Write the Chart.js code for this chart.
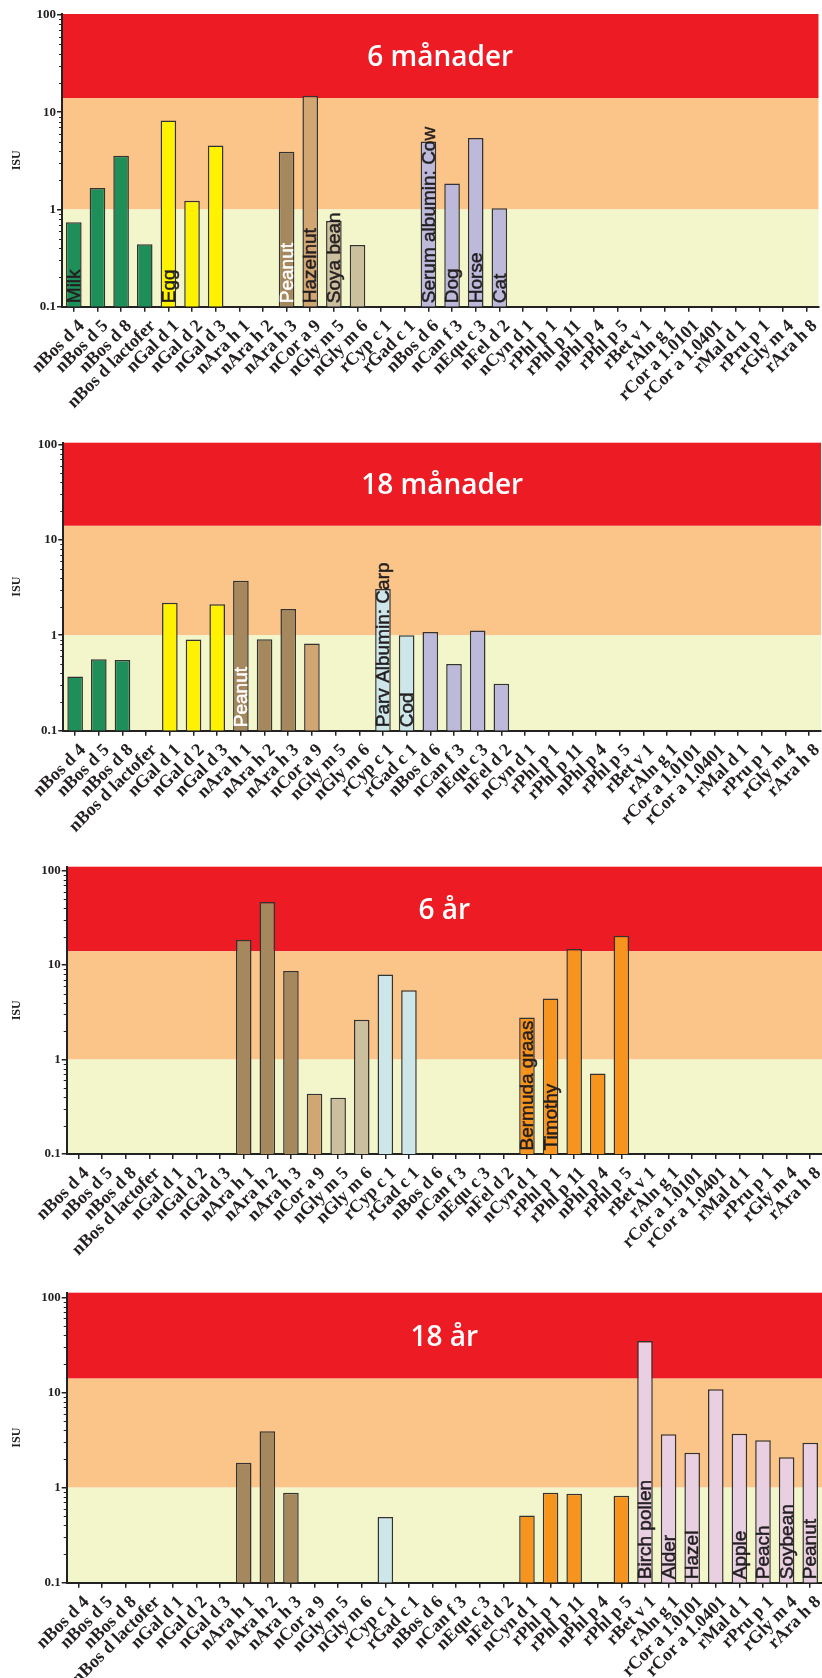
<!DOCTYPE html>
<html>
<head>
<meta charset="utf-8">
<script src="https://cdn.jsdelivr.net/npm/chart.js@4.4.0/dist/chart.umd.min.js"></script>
<style>
  body { margin: 0; background: #fff; width: 822px; height: 1678px; overflow: hidden; position: relative; }
  .panel { position: absolute; left: 0; width: 822px; }
</style>
</head>
<body>
<div class="panel" style="top:0;height:420px"><canvas id="c0"></canvas></div>
<div class="panel" style="top:425px;height:425px"><canvas id="c1"></canvas></div>
<div class="panel" style="top:850px;height:425px"><canvas id="c2"></canvas></div>
<div class="panel" style="top:1275px;height:403px"><canvas id="c3"></canvas></div>
<script>
// allergen components on the x axis
const allergens = [
  "nBos d 4", "nBos d 5", "nBos d 8", "nBos d lactofer", "nGal d 1", "nGal d 2", "nGal d 3",
  "nAra h 1", "nAra h 2", "nAra h 3", "nCor a 9", "nGly m 5", "nGly m 6", "rCyp c 1", "rGad c 1",
  "nBos d 6", "nCan f 3", "nEqu c 3", "nFel d 2", "nCyn d 1", "rPhl p 1", "rPhl p 11", "nPhl p 4",
  "rPhl p 5", "rBet v 1", "rAln g 1", "rCor a 1.0101", "rCor a 1.0401", "rMal d 1", "rPru p 1",
  "rGly m 4", "rAra h 8"
];
const groups = [
  "milk", "milk", "milk", "milk", "egg", "egg", "egg",
  "peanut", "peanut", "peanut", "hazelnut", "soy", "soy", "fish", "fish",
  "animal", "animal", "animal", "animal", "grass", "grass", "grass", "grass",
  "grass", "pr10", "pr10", "pr10", "pr10", "pr10", "pr10", "pr10", "pr10"
];

// ISU values per age (null = no bar)
const isu6m = [0.74, 1.66, 3.56, 0.44, 8.2, 1.23, 4.56, null, null, 3.92, 14.8, 0.76, 0.43, null, null,
  5.0, 1.85, 5.42, 1.03, null, null, null, null, null, null, null, null, null, null, null, null, null];
const isu18m = [0.37, 0.56, 0.55, null, 2.19, 0.9, 2.11, 3.72, 0.91, 1.88, 0.82, null, null, 3.05, 1.0,
  1.08, 0.5, 1.12, 0.31, null, null, null, null, null, null, null, null, null, null, null, null, null];
const isu6y = [null, null, null, null, null, null, null, 18.5, 46.4, 8.68, 0.435, 0.395, 2.63, 7.94, 5.42,
  null, null, null, null, 2.78, 4.42, 14.8, 0.71, 20.4, null, null, null, null, null, null, null, null];
const isu18y = [null, null, null, null, null, null, null, 1.83, 3.91, 0.88, null, null, null, 0.49, null,
  null, null, null, null, 0.51, 0.88, 0.86, null, 0.82, 34.8, 3.63, 2.33, 10.8, 3.69, 3.14, 2.08, 2.96];

// source names written inside the bars
const sources6m = [["nBos d 4", "Milk"], ["nGal d 1", "Egg"], ["nAra h 3", "Peanut"], ["nCor a 9", "Hazelnut"],
  ["nGly m 5", "Soya bean"], ["nBos d 6", "Serum albumin: Cow"], ["nCan f 3", "Dog"], ["nEqu c 3", "Horse"], ["nFel d 2", "Cat"]];
const sources18m = [["nAra h 1", "Peanut"], ["rCyp c 1", "Parv Albumin: Carp"], ["rGad c 1", "Cod"]];
const sources6y = [["nCyn d 1", "Bermuda graas"], ["rPhl p 1", "Timothy"]];
const sources18y = [["rBet v 1", "Birch pollen"], ["rAln g 1", "Alder"], ["rCor a 1.0101", "Hazel"], ["rMal d 1", "Apple"],
  ["rPru p 1", "Peach"], ["rGly m 4", "Soybean"], ["rAra h 8", "Peanut"]];

const titles = ["6 månader", "18 månader", "6 år", "18 år"];
const yTicks = [0.1, 1, 10, 100];
const bandLimits = [14, 1];

const groupColours = {
  milk: "#1e8f58", egg: "#fff200", peanut: "#a5885d", hazelnut: "#d1a672", soy: "#cbbf9d",
  fish: "#cde6ea", animal: "#bdb9db", grass: "#f7941d", pr10: "#e8d0e2"
};

const panels = [
  { values: isu6m, sources: sources6m, left: 62, right: 818.5, top: 14, xHeight: 113.3, yMax: 102.4 },
  { values: isu18m, sources: sources18m, left: 63.3, right: 821, top: 17.7, xHeight: 119.3, yMax: 104 },
  { values: isu6y, sources: sources6y, left: 66.7, right: 822, top: 16.7, xHeight: 121, yMax: 110 },
  { values: isu18y, sources: sources18y, left: 66.7, right: 822, top: 17.7, xHeight: 95.3, yMax: 112 }
];

const bandsPlugin = {
  id: "bands",
  beforeDraw(chart) {
    const { ctx, chartArea: a, scales: { y } } = chart;
    const yRed = y.getPixelForValue(bandLimits[0]);
    const yOne = y.getPixelForValue(bandLimits[1]);
    ctx.save();
    ctx.fillStyle = "#ed1c24";
    ctx.fillRect(a.left, a.top, a.right - a.left, yRed - a.top);
    ctx.fillStyle = "#fbc58a";
    ctx.fillRect(a.left, yRed, a.right - a.left, yOne - yRed);
    ctx.fillStyle = "#f3f5cb";
    ctx.fillRect(a.left, yOne, a.right - a.left, a.bottom - yOne);
    // title in the red band
    ctx.fillStyle = "#fff";
    ctx.font = "600 28px 'Open Sans'";
    ctx.textAlign = "center";
    ctx.textBaseline = "alphabetic";
    ctx.fillText(chart.options.plugins.bands.title, (a.left + a.right) / 2, (a.top + yRed) / 2 + 10);
    ctx.restore();
  },
  afterDraw(chart) {
    const { ctx, chartArea: a, scales: { x, y } } = chart;
    ctx.save();
    // minor ticks on the log axis
    ctx.strokeStyle = "#222";
    ctx.lineWidth = 1;
    for (let d = 0.1; d < 100; d *= 10) {
      for (let k = 2; k <= 9; k++) {
        const py = Math.round(y.getPixelForValue(d * k)) + 0.5;
        ctx.beginPath();
        ctx.moveTo(a.left - 3, py);
        ctx.lineTo(a.left, py);
        ctx.stroke();
      }
    }
    // source names inside the bars
    const base = y.getPixelForValue(0.1) - 3.5;
    ctx.font = "19px 'Liberation Sans'";
    ctx.textAlign = "left";
    ctx.textBaseline = "middle";
    ctx.lineWidth = 0.5;
    chart.options.plugins.bands.sources.forEach(([comp, name]) => {
      const i = allergens.indexOf(comp);
      const px = x.getPixelForValue(i);
      const col = groups[i] === "peanut" ? "#fff" : "#231f20";
      ctx.fillStyle = col;
      ctx.strokeStyle = col;
      ctx.save();
      ctx.translate(px + 1, base);
      ctx.rotate(-Math.PI / 2);
      ctx.fillText(name, 0, 0);
      ctx.strokeText(name, 0, 0);
      ctx.restore();
    });
    ctx.restore();
  }
};

panels.forEach((p, n) => {
  new Chart(document.getElementById("c" + n), {
    type: "bar",
    data: {
      labels: allergens,
      datasets: [{
        data: p.values,
        backgroundColor: groups.map(g => groupColours[g]),
        borderColor: "#333",
        borderWidth: 1.5,
        barPercentage: 0.66,
        categoryPercentage: 1
      }]
    },
    options: {
      responsive: true,
      maintainAspectRatio: false,
      animation: false,
      devicePixelRatio: 1,
      layout: { padding: { top: p.top, right: 822 - p.right, left: 0, bottom: 0 } },
      plugins: {
        legend: { display: false },
        tooltip: { enabled: false },
        bands: { title: titles[n], sources: p.sources }
      },
      scales: {
        x: {
          grid: { display: true, drawOnChartArea: false, offset: false, tickLength: 5, color: "#222", lineWidth: 1.5 },
          border: { display: true, color: "#222", width: 2 },
          ticks: {
            autoSkip: false, maxRotation: 45, minRotation: 45, padding: 4, labelOffset: 8,
            color: "#231f20", font: { family: "'Liberation Serif'", weight: "bold", size: 18 }
          },
          afterFit(scale) {
            scale.height = p.xHeight;
            scale.paddingLeft = 0;
            scale.paddingRight = 0;
          }
        },
        y: {
          type: "logarithmic",
          min: 0.1,
          max: p.yMax,
          afterBuildTicks(scale) { scale.ticks = yTicks.map(v => ({ value: v })); },
          grid: { display: true, drawOnChartArea: false, tickLength: 5, color: "#222", lineWidth: 1.5 },
          border: { display: true, color: "#222", width: 2 },
          ticks: {
            padding: 1, color: "#231f20",
            font: { family: "'Liberation Serif'", weight: "bold", size: 13 },
            callback: v => String(v)
          },
          title: {
            display: true, text: "ISU", color: "#231f20", padding: { top: 10, bottom: 0 },
            font: { family: "'Liberation Serif'", weight: "bold", size: 12 }
          },
          afterFit(scale) { scale.width = p.left; }
        }
      }
    },
    plugins: [bandsPlugin]
  });
});
</script>
</body>
</html>
